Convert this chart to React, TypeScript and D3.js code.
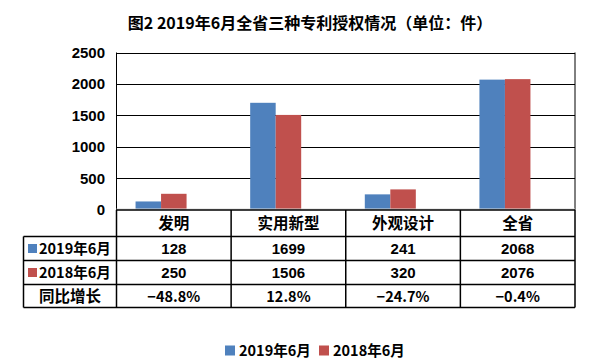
import React from "react";
import * as d3 from "d3";

const categories = ["发明", "实用新型", "外观设计", "全省"];
const seriesNames = ["2019年6月", "2018年6月"];
const values2019 = [128, 1699, 241, 2068];
const values2018 = [250, 1506, 320, 2076];
const yoyLabels = ["−48.8%", "12.8%", "−24.7%", "−0.4%"];
const yTicks = [0, 500, 1000, 1500, 2000, 2500];
const title = "图2 2019年6月全省三种专利授权情况（单位：件）";
const yoyRowLabel = "同比增长";
const colors = ["#4F81BD", "#C0504D"];

const W = 593;
const H = 361;
const plot = { left: 116.5, right: 575, top: 52.5, bottom: 210 };
const tableRows = [210, 236.5, 260.5, 284.5, 307.5];
const tableLeft = 23.5;
const FONT_NUM = "'Liberation Sans', Arial, sans-serif";
const FONT_CJK = "'Noto Sans CJK SC', 'Liberation Sans', sans-serif";

export default function App() {
  const x = d3.scaleBand<string>().domain(categories).range([plot.left, plot.right]).paddingInner(0).paddingOuter(0);
  const inner = d3
    .scaleBand<string>()
    .domain(["s2019", "s2018", "yoy"])
    .range([0, x.bandwidth()])
    .paddingInner(0)
    .paddingOuter(0.747);
  const y = d3.scaleLinear().domain([0, 2500]).range([plot.bottom - 0.5, plot.top]);

  const series = [values2019, values2018];
  const keys = ["s2019", "s2018"];

  const rowCenters = tableRows.slice(0, -1).map((r, i) => (r + tableRows[i + 1]) / 2);

  return (
    <svg
      width={W}
      height={H}
      style={{ position: "absolute", left: 0, top: 0, background: "#fff" }}
    >
      <rect x={0} y={0} width={W} height={H} fill="#fff" />
      <text
        x={310}
        y={29}
        textAnchor="middle"
        fontFamily={FONT_CJK}
        fontWeight="bold"
        fontSize={16}
        fill="#000"
      >
        {title}
      </text>

      {/* gridlines */}
      {yTicks.filter((t) => t > 0).map((t) => (
        <line
          key={"g" + t}
          x1={plot.left}
          x2={plot.right}
          y1={Math.round(y(t)) + 0.5}
          y2={Math.round(y(t)) + 0.5}
          stroke="#000"
          strokeWidth={1}
        />
      ))}
      {/* y tick labels */}
      {yTicks.map((t) => (
        <text
          key={"t" + t}
          x={105}
          y={y(t) + 5.5}
          textAnchor="end"
          fontFamily={FONT_NUM}
          fontWeight="bold"
          fontSize={15}
          fill="#000"
        >
          {t}
        </text>
      ))}

      {/* bars */}
      {series.map((vals, si) =>
        vals.map((v, ci) => (
          <rect
            key={`b${si}-${ci}`}
            x={(x(categories[ci]) as number) + (inner(keys[si]) as number)}
            y={y(v)}
            width={inner.bandwidth()}
            height={y(0) - y(v)}
            fill={colors[si]}
          />
        ))
      )}

      {/* plot border verticals */}
      <line x1={plot.left} x2={plot.left} y1={plot.top} y2={plot.bottom} stroke="#000" />
      <line x1={plot.right} x2={plot.right} y1={plot.top} y2={plot.bottom} stroke="#000" />
      <line x1={plot.left} x2={plot.right} y1={plot.bottom - 1} y2={plot.bottom - 1} stroke="#d9d9d9" />

      {/* table grid */}
      {tableRows.map((r, i) => (
        <line
          key={"h" + i}
          x1={i === 0 ? plot.left : tableLeft}
          x2={plot.right}
          y1={r}
          y2={r}
          stroke="#000"
          strokeWidth={1.5}
        />
      ))}
      <line x1={tableLeft} x2={tableLeft} y1={tableRows[1]} y2={tableRows[4]} stroke="#000" strokeWidth={1.5} />
      {categories.map((c) => (
        <line
          key={"v" + c}
          x1={x(c) as number}
          x2={x(c) as number}
          y1={tableRows[0]}
          y2={tableRows[4]}
          stroke="#000"
          strokeWidth={1.5}
        />
      ))}
      <line x1={plot.right} x2={plot.right} y1={tableRows[0]} y2={tableRows[4]} stroke="#000" strokeWidth={1.5} />

      {/* header cells */}
      {categories.map((c) => (
        <text
          key={"hc" + c}
          x={(x(c) as number) + x.bandwidth() / 2}
          y={rowCenters[0] + 5.5}
          textAnchor="middle"
          fontFamily={FONT_CJK}
          fontWeight="bold"
          fontSize={15.5}
          fill="#000"
        >
          {c}
        </text>
      ))}
      {/* value rows */}
      {series.map((vals, si) => (
        <g key={"row" + si}>
          <rect x={28} y={rowCenters[si + 1] - 4.5} width={9} height={9} fill={colors[si]} />
          <text
            x={39}
            y={rowCenters[si + 1] + 5.5}
            fontFamily={FONT_CJK}
            fontWeight="bold"
            fontSize={14.5}
            fill="#000"
          >
            {seriesNames[si]}
          </text>
          {vals.map((v, ci) => (
            <text
              key={"v" + ci}
              x={(x(categories[ci]) as number) + x.bandwidth() / 2}
              y={rowCenters[si + 1] + 5.5}
              textAnchor="middle"
              fontFamily={FONT_NUM}
              fontWeight="bold"
              fontSize={15}
              fill="#000"
            >
              {v}
            </text>
          ))}
        </g>
      ))}
      <text
        x={(tableLeft + plot.left) / 2}
        y={rowCenters[3] + 5.5}
        textAnchor="middle"
        fontFamily={FONT_CJK}
        fontWeight="bold"
        fontSize={15.5}
        fill="#000"
      >
        {yoyRowLabel}
      </text>
      {yoyLabels.map((l, ci) => (
        <text
          key={"y" + ci}
          x={(x(categories[ci]) as number) + x.bandwidth() / 2}
          y={rowCenters[3] + 5.5}
          textAnchor="middle"
          fontFamily={FONT_CJK}
          fontWeight="bold"
          fontSize={14.5}
          fill="#000"
        >
          {l}
        </text>
      ))}

      {/* legend */}
      {seriesNames.map((n, i) => (
        <g key={"lg" + i} transform={`translate(${i === 0 ? 225 : 319},0)`}>
          <rect x={0} y={345.5} width={10} height={10} fill={colors[i]} />
          <text
            x={14}
            y={356}
            fontFamily={FONT_CJK}
            fontWeight="bold"
            fontSize={14.5}
            fill="#000"
          >
            {n}
          </text>
        </g>
      ))}
    </svg>
  );
}
